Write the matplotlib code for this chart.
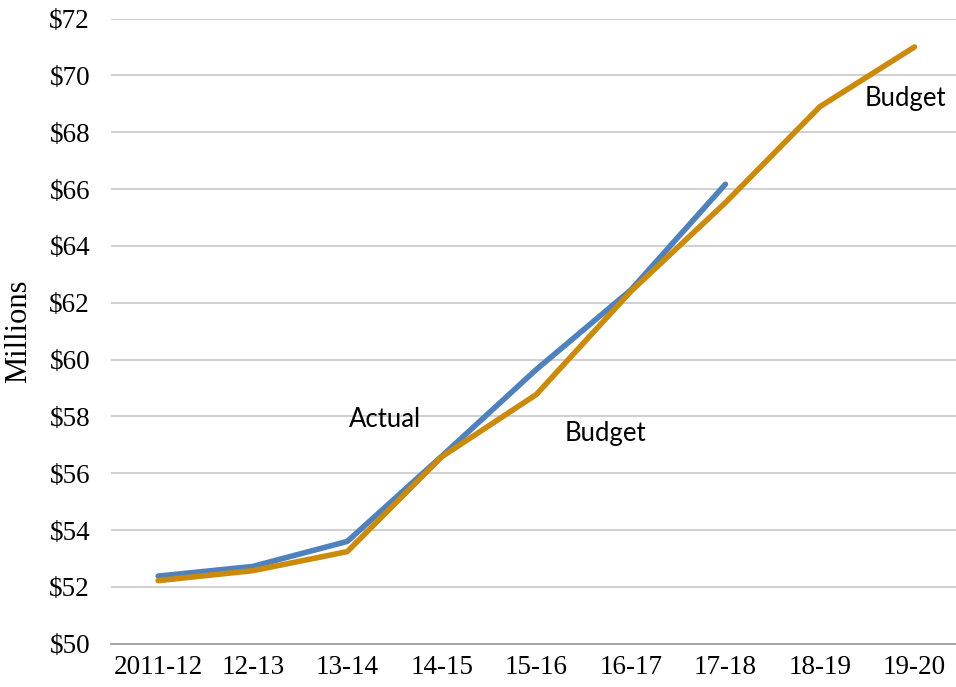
import matplotlib.pyplot as plt

years = ['2011-12', '12-13', '13-14', '14-15', '15-16', '16-17', '17-18', '18-19', '19-20']
actual = [52.38, 52.72, 53.6, 56.6, 59.65, 62.45, 66.17]
budget = [52.22, 52.57, 53.24, 56.58, 58.77, 62.4, 65.52, 68.9, 71.0]

fig = plt.figure(figsize=(9.56, 6.87), dpi=100)
ax = fig.add_axes([0.116, 0.063, 0.89, 0.91])

x = list(range(len(years)))
ax.plot(x[:len(actual)], actual, color='#4F81BD', lw=4.0, solid_capstyle='round', zorder=3)
ax.plot(x, budget, color='#CC8A0A', lw=4.0, solid_capstyle='round', zorder=4)

ax.set_xlim(-0.5, len(years) - 0.5)
ax.set_ylim(50, 72)
ax.set_yticks(range(50, 73, 2))
ax.set_yticklabels(['$%d' % v for v in range(50, 73, 2)], family='Liberation Serif', fontsize=19.5)
ax.set_xticks(x)
ax.set_xticklabels(years, family='Liberation Serif', fontsize=19.5)
ax.tick_params(length=0)
ax.tick_params(axis='x', pad=8)
ax.tick_params(axis='y', pad=15)
ax.grid(axis='y', color='#C8C8C8', lw=1.2)
ax.set_axisbelow(True)
for s in ['top', 'right', 'left']:
    ax.spines[s].set_visible(False)
ax.spines['bottom'].set_color('#9A9A9A')
ax.spines['bottom'].set_linewidth(1.2)
ax.set_ylabel('Millions', family='Liberation Serif', fontsize=22, labelpad=12)

ax.text(2.4, 57.9, 'Actual', family='Lato', fontsize=18.5, ha='center', va='center')
ax.text(4.73, 57.4, 'Budget', family='Lato', fontsize=18.5, ha='center', va='center')
ax.text(7.9, 69.2, 'Budget', family='Lato', fontsize=18.5, ha='center', va='center')

fig.savefig('out.png', dpi=100)
